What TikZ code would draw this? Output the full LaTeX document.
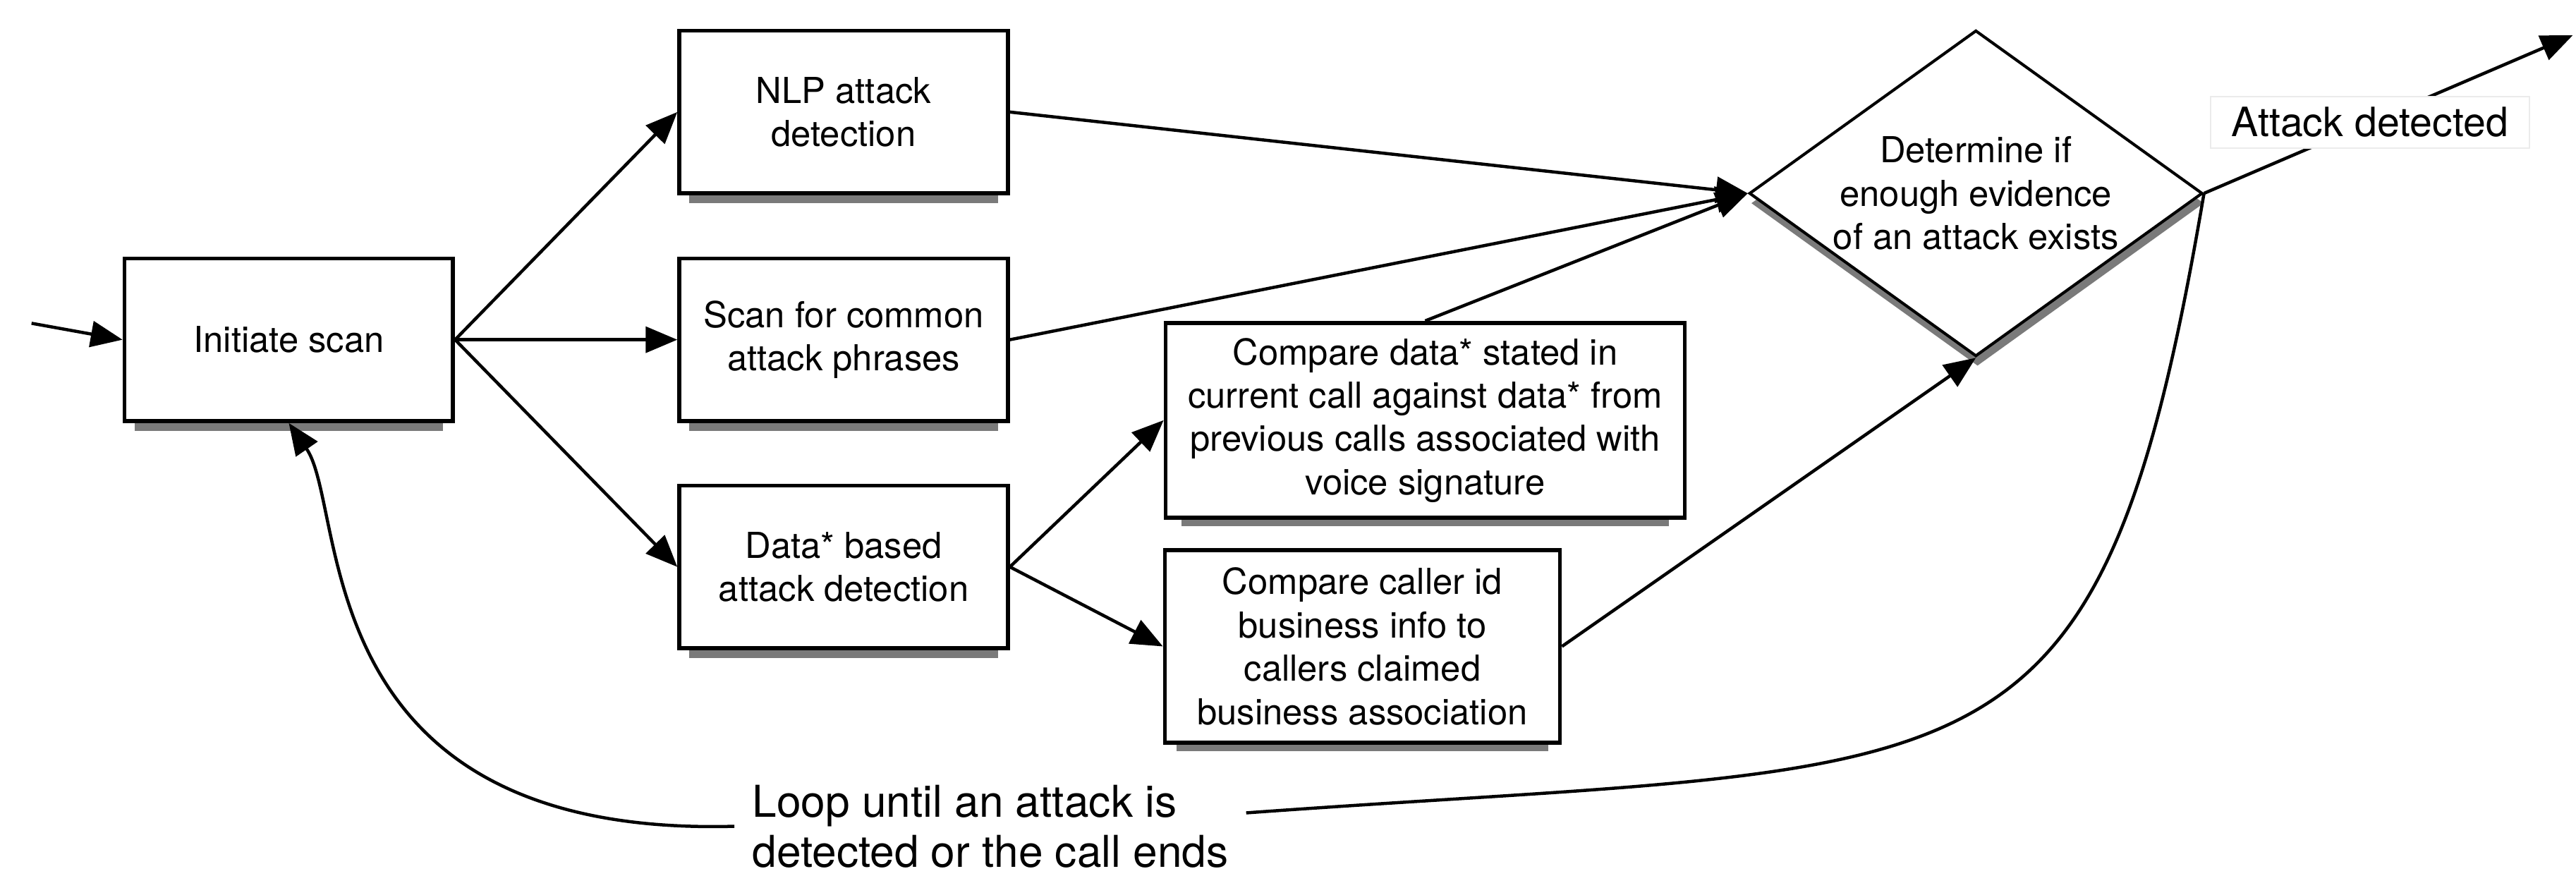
\documentclass[tikz,border=0pt]{standalone}
\usepackage{fontspec}
\setmainfont{TeX Gyre Heros}
\usepackage{tikz}
\usetikzlibrary{arrows.meta,shapes.geometric,shadows}

\begin{document}
\begin{tikzpicture}[x=0.02cm, y=0.02cm]
\tikzstyle{every node}+=[inner sep=0pt]
\tikzstyle{procbox}=[rectangle, draw=black, line width=1.4pt, fill=white, align=center, font=\fontsize{12.4pt}{15pt}\selectfont, drop shadow={shadow xshift=0pt, shadow yshift=-0.19cm, shadow scale=0.94, fill=black!65, opacity=0.8}]
\tikzstyle{decbox}=[diamond, aspect=1.4, draw=black, line width=1pt, fill=white, minimum width=5.52cm, minimum height=3.97cm, align=center, font=\fontsize{12.4pt}{15pt}\selectfont, drop shadow={shadow xshift=0.02cm, shadow yshift=-0.12cm, fill=black!65, opacity=0.8}]
\tikzstyle{looplabel}=[align=left, inner sep=6pt, font=\fontsize{15.2pt}{17.4pt}\selectfont]
\tikzstyle{detlabel}=[fill=white, draw=black!8, line width=0.5pt, inner xsep=0.26cm, inner ysep=0.13cm, font=\fontsize{14pt}{16pt}\selectfont]
\tikzstyle{flow}=[draw=black, line width=1.1pt, -{Triangle[length=11pt,width=9pt]}]
\tikzstyle{loopline}=[draw=black, line width=1.1pt]
\useasboundingbox (0,0) rectangle (1568,-533);
\node [procbox, minimum width=4cm, minimum height=1.98cm] (init) at (175.8,-206.8) {Initiate scan};
\node [procbox, minimum width=4cm, minimum height=1.98cm] (nlp) at (513.5,-68.2) {NLP attack\\detection};
\node [procbox, minimum width=4cm, minimum height=1.98cm] (scan) at (513.5,-206.8) {Scan for common\\attack phrases};
\node [procbox, minimum width=4cm, minimum height=1.98cm] (databased) at (513.5,-345.1) {Data* based\\attack detection};
\node [procbox, minimum width=6.32cm, minimum height=2.37cm] (cmpdata) at (867.5,-255.8) {Compare data* stated in\\current call against data* from\\previous calls associated with\\voice signature};
\node [procbox, minimum width=4.81cm, minimum height=2.34cm] (cmpcaller) at (829.3,-393.5) {Compare caller id\\business info to\\callers claimed\\business association};
\node [decbox] (decide) at (1202.7,-117.7) {Determine if\\enough evidence\\of an attack exists};
\node [looplabel, anchor=west] (loop) at (447,-503) {Loop until an attack is\\detected or the call ends};
\coordinate (entry) at (19.2,-196.8);
\coordinate (exit) at (1566,-21.5);
\draw [flow] (entry) -- (init.west);
\draw [flow] (init.east) -- (nlp.west);
\draw [flow] (init.east) -- (scan.west);
\draw [flow] (init.east) -- (databased.west);
\draw [flow] (nlp.east) -- (decide.west);
\draw [flow] (scan.east) -- (decide.west);
\draw [flow] (cmpdata.north) -- (decide.west);
\draw [flow] (databased.east) -- (cmpdata.west);
\draw [flow] (databased.east) -- (cmpcaller.west);
\draw [flow] (cmpcaller.east) -- (decide.south);
\draw [flow] (decide.east) -- node [pos=0.45, detlabel] (detected) {Attack detected} (exit);
\draw [loopline] (decide.east) .. controls (1277,-498) and (1210,-462) .. (loop.3);
\draw [flow] (loop.west) .. controls (185,-510) and (212,-310) .. (init.south);
\end{tikzpicture}
\end{document}
